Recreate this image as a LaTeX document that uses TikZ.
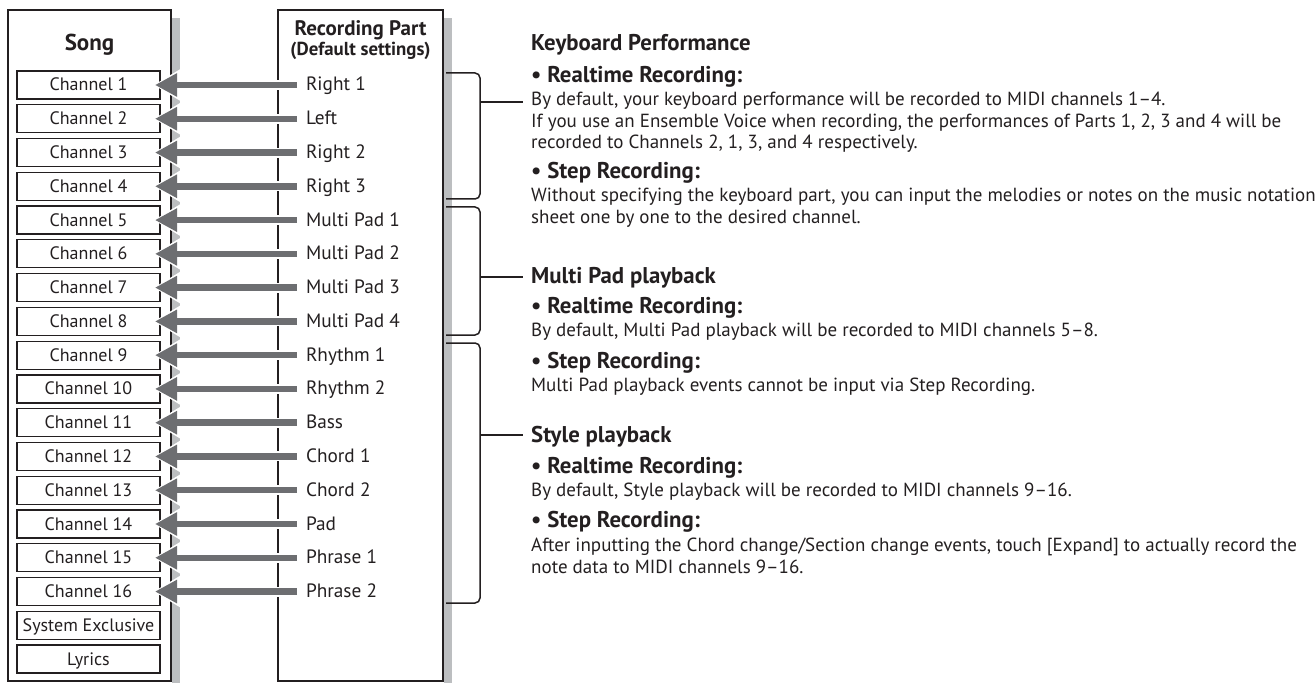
\documentclass[tikz,border=0pt]{standalone}
\usepackage{fontspec}
\setmainfont{PT Sans}
\usetikzlibrary{arrows.meta}
\definecolor{ink}{HTML}{231F20}
\definecolor{agray}{HTML}{6D6E71}
\definecolor{shade}{HTML}{BCBEC0}
\begin{document}
\begin{tikzpicture}[x=1pt,y=-1pt, font=\fontsize{19}{22}\selectfont, text=ink,
  outerbox/.style={draw=ink, line width=2pt},
  shadowbar/.style={fill=shade, draw=none},
  chanbox/.style={draw=ink, line width=1.3pt, minimum width=143pt, minimum height=28pt, inner sep=0pt, outer sep=0pt, text height=12pt, text depth=0pt, font=\fontsize{18}{21}\selectfont},
  partlabel/.style={anchor=west, inner xsep=6pt, inner ysep=0pt, outer sep=0pt, text height=12pt, text depth=0pt, font=\fontsize{19.3}{22}\selectfont},
  bodytext/.style={anchor=base west, inner sep=0pt},
  headtext/.style={anchor=base west, inner sep=0pt, font=\fontsize{22.8}{26}\selectfont\bfseries},
  whitearrow/.style={draw=white, line width=10pt, -{Triangle[length=27pt,width=30pt]}, shorten >=-6.5pt, shorten <=3pt},
  grayarrow/.style={draw=agray, line width=6.5pt, -{Triangle[length=22pt,width=22pt]}, shorten >=-5pt, shorten <=3pt},
  bracket/.style={draw=ink, line width=1.5pt, rounded corners=5pt},
  tick/.style={draw=ink, line width=1.5pt}]
\useasboundingbox (0,0) rectangle (1316,684);
% shadows
\fill[shadowbar] (172,18) rectangle (180,683);
\fill[shadowbar] (444,18) rectangle (452,683);
% outer boxes
\draw[outerbox] (8,10) rectangle (171,681);
\draw[outerbox] (278,10) rectangle (443,681);
\node[font=\fontsize{23}{26}\selectfont\bfseries, anchor=base, inner sep=0pt] (songtitle) at (89.5,51) {Song};
\node[font=\fontsize{21}{24}\selectfont\bfseries, anchor=base, inner sep=0pt] (rectitle) at (360.5,36) {Recording Part};
\node[font=\fontsize{18.8}{21}\selectfont\bfseries, anchor=base, inner sep=0pt] (recsub) at (360.5,56) {(Default settings)};
% channel boxes
\foreach \i in {1,...,16} {
  \node[chanbox] (ch\i) at (88.5,{85+33.77*(\i-1)}) {Channel \i};
}
\node[chanbox] (sysex) at (88.5,{85+33.77*16}) {System Exclusive};
\node[chanbox] (lyrics) at (88.5,{85+33.77*17}) {Lyrics};
% part labels
\foreach \t [count=\i] in {Right 1,Left,Right 2,Right 3,Multi Pad 1,Multi Pad 2,Multi Pad 3,Multi Pad 4,Rhythm 1,Rhythm 2,Bass,Chord 1,Chord 2,Pad,Phrase 1,Phrase 2} {
  \node[partlabel] (p\i) at (300,{85+33.77*(\i-1)}) {\t};
}
% arrows
\foreach \i in {1,...,16} {
  \draw[whitearrow] (p\i.west) -- (ch\i.east);
}
\foreach \i in {1,...,16} {
  \draw[grayarrow] (p\i.west) -- (ch\i.east);
}
% brackets
\draw[bracket] (446,73) -- (480,73) -- (480,199) -- (446,199);
\draw[bracket] (446,207) -- (480,207) -- (480,335) -- (446,335);
\draw[bracket] (446,343) -- (480,343) -- (480,603) -- (446,603);
\coordinate (k1) at (480,102);
\coordinate (k2) at (480,277);
\coordinate (k3) at (480,435);
% right-hand text
\node[headtext] (kbd) at (531,51) {Keyboard Performance};
\node[headtext] (kbdrt) at (531,83) {• Realtime Recording:};
\node[bodytext] (kbdrt1) at (531,106) {By default, your keyboard performance will be recorded to MIDI channels 1–4.};
\node[bodytext] (kbdrt2) at (531,128) {If you use an Ensemble Voice when recording, the performances of Parts 1, 2, 3 and 4 will be};
\node[bodytext] (kbdrt3) at (531,149) {recorded to Channels 2, 1, 3, and 4 respectively.};
\node[headtext] (kbdst) at (531,179) {• Step Recording:};
\node[bodytext] (kbdst1) at (531,202) {Without specifying the keyboard part, you can input the melodies or notes on the music notation};
\node[bodytext] (kbdst2) at (531,224) {sheet one by one to the desired channel.};
\node[headtext] (mp) at (531,284) {Multi Pad playback};
\node[headtext] (mprt) at (531,313) {• Realtime Recording:};
\node[bodytext] (mprt1) at (531,337) {By default, Multi Pad playback will be recorded to MIDI channels 5–8.};
\node[headtext] (mpst) at (531,368) {• Step Recording:};
\node[bodytext] (mpst1) at (531,391) {Multi Pad playback events cannot be input via Step Recording.};
\node[headtext] (sty) at (531,442) {Style playback};
\node[headtext] (styrt) at (531,473) {• Realtime Recording:};
\node[bodytext] (styrt1) at (531,496) {By default, Style playback will be recorded to MIDI channels 9–16.};
\node[headtext] (styst) at (531,527) {• Step Recording:};
\node[bodytext] (styst1) at (531,551) {After inputting the Chord change/Section change events, touch [Expand] to actually record the};
\node[bodytext] (styst2) at (531,573) {note data to MIDI channels 9–16.};
% ticks
\draw[tick] (k1) -- ([xshift=-8pt]k1 -| kbdrt1.west);
\draw[tick] (k2) -- ([xshift=-8pt]k2 -| mp.west);
\draw[tick] (k3) -- ([xshift=-8pt]k3 -| sty.west);
\end{tikzpicture}
\end{document}
